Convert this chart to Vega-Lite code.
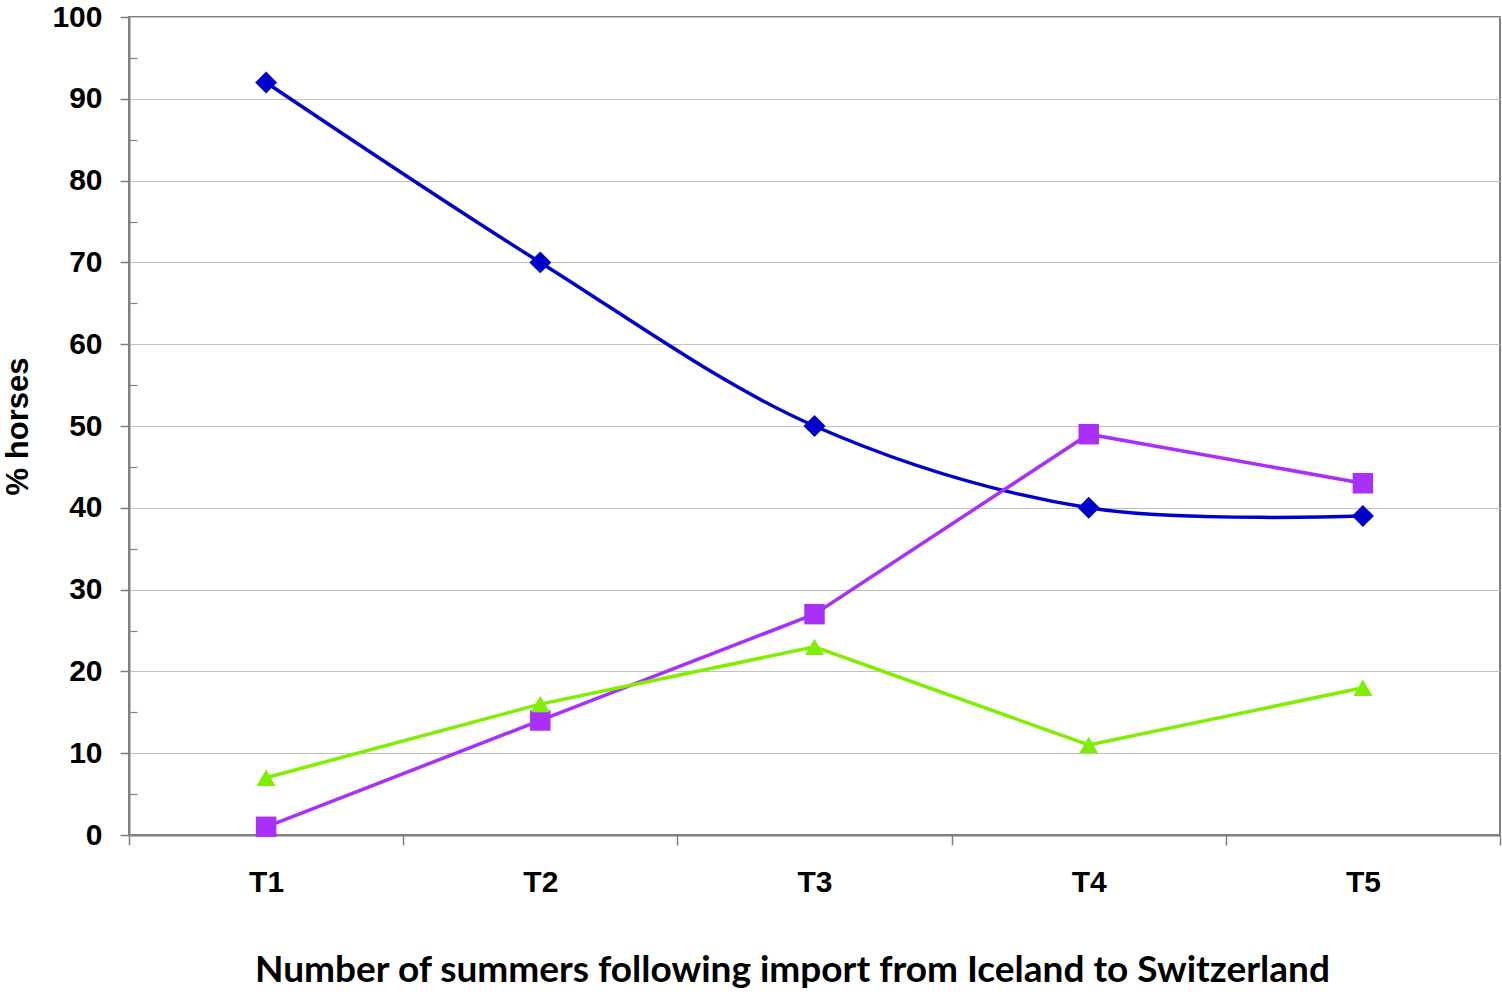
{
  "$schema": "https://vega.github.io/schema/vega-lite/v6.json",
  "width": 1371,
  "height": 818,
  "autosize": {"type": "none"},
  "padding": {"left": 129, "top": 17, "right": 2, "bottom": 164},
  "background": "white",
  "config": {
    "view": {"stroke": "#808080", "strokeWidth": 2},
    "axis": {"labelFont": "Liberation Sans", "labelFontWeight": "bold", "labelFontSize": 30, "labelColor": "black", "titleColor": "black"}
  },
  "data": {
    "values": [
      {"t": "T1", "series": "A", "v": 92},
      {"t": "T2", "series": "A", "v": 70},
      {"t": "T3", "series": "A", "v": 50},
      {"t": "T4", "series": "A", "v": 40},
      {"t": "T5", "series": "A", "v": 39},
      {"t": "T1", "series": "B", "v": 1},
      {"t": "T2", "series": "B", "v": 14},
      {"t": "T3", "series": "B", "v": 27},
      {"t": "T4", "series": "B", "v": 49},
      {"t": "T5", "series": "B", "v": 43},
      {"t": "T1", "series": "C", "v": 7},
      {"t": "T2", "series": "C", "v": 16},
      {"t": "T3", "series": "C", "v": 23},
      {"t": "T4", "series": "C", "v": 11},
      {"t": "T5", "series": "C", "v": 18}
    ]
  },
  "layer": [
    {
      "layer": [
        {
          "transform": [{"filter": "datum.series === 'A'"}],
          "mark": {"type": "line", "interpolate": "catmull-rom", "strokeWidth": 3.5, "color": "#0000CC"},
          "encoding": {
            "x": {"field": "t", "type": "nominal"},
            "y": {"field": "v", "type": "quantitative"}
          }
        },
        {
          "transform": [{"filter": "datum.series !== 'A'"}],
          "mark": {"type": "line", "strokeWidth": 3.5},
          "encoding": {
            "x": {"field": "t", "type": "nominal"},
            "y": {"field": "v", "type": "quantitative"},
            "color": {"field": "series", "type": "nominal", "scale": {"domain": ["A", "B", "C"], "range": ["#0000CC", "#A830F8", "#80EE00"]}, "legend": null}
          }
        },
        {
          "mark": {"type": "point", "filled": true, "opacity": 1},
          "encoding": {
            "x": {"field": "t", "type": "nominal"},
            "y": {"field": "v", "type": "quantitative"},
            "color": {"field": "series", "type": "nominal", "scale": {"domain": ["A", "B", "C"], "range": ["#0000CC", "#A830F8", "#80EE00"]}, "legend": null},
            "shape": {"field": "series", "type": "nominal", "scale": {"domain": ["A", "B", "C"], "range": ["diamond", "square", "triangle-up"]}, "legend": null},
            "size": {"field": "series", "type": "nominal", "scale": {"domain": ["A", "B", "C"], "range": [480, 360, 380]}, "legend": null}
          }
        }
      ],
      "encoding": {
        "x": {
          "field": "t", "type": "nominal",
          "scale": {"type": "band", "paddingInner": 0, "paddingOuter": 0},
          "axis": {
            "title": "Number of summers following import from Iceland to Switzerland",
            "titleFont": "Lato", "titleFontSize": 37, "titleFontWeight": "bold", "titlePadding": 55,
            "titleX": 663, "titleAnchor": "middle",
            "labelAngle": 0, "labelPadding": 22, "tickBand": "extent",
            "domainColor": "#808080", "domainWidth": 2, "tickColor": "#808080", "tickWidth": 1.5, "tickSize": 10,
            "grid": false
          }
        },
        "y": {
          "field": "v", "type": "quantitative",
          "scale": {"domain": [0, 100], "nice": false},
          "axis": {
            "title": "% horses", "titleFont": "Liberation Sans", "titleFontSize": 31, "titleFontWeight": "bold", "titlePadding": 17,
            "values": [0, 10, 20, 30, 40, 50, 60, 70, 80, 90, 100],
            "labelPadding": 18, "tickSize": 9, "tickColor": "#808080", "tickWidth": 1.5,
            "domainColor": "#808080", "domainWidth": 2,
            "grid": true, "gridColor": "#C0C0C0", "gridWidth": 1.2
          }
        }
      }
    },
    {
      "mark": {"type": "point", "opacity": 0},
      "encoding": {
        "y": {
          "field": "v", "type": "quantitative",
          "scale": {"domain": [0, 100], "nice": false},
          "axis": {
            "orient": "left", "title": null, "labels": false, "domain": false, "grid": false,
            "values": [5, 15, 25, 35, 45, 55, 65, 75, 85, 95],
            "tickSize": -8, "tickColor": "#808080", "tickWidth": 1.2
          }
        }
      }
    }
  ],
  "resolve": {"axis": {"y": "independent"}}
}
